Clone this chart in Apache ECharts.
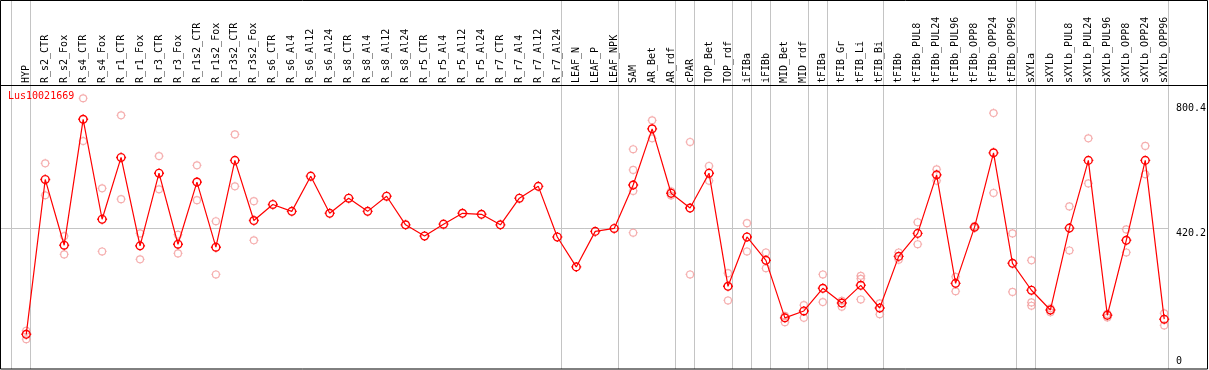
<!DOCTYPE html>
<html><head><meta charset="utf-8">
<script src="https://cdn.jsdelivr.net/npm/echarts@6/dist/echarts.min.js"></script>
<style>html,body{margin:0;padding:0;background:#fff}#c{width:1209px;height:370px}</style>
</head><body><div id="c"></div>
<script>
const chartTitle = 'Lus10021669';
const categories = ['HYP','R_s2_CTR','R_s2_Fox','R_s4_CTR','R_s4_Fox','R_r1_CTR','R_r1_Fox','R_r3_CTR','R_r3_Fox','R_r1s2_CTR','R_r1s2_Fox','R_r3s2_CTR','R_r3s2_Fox','R_s6_CTR','R_s6_Al4','R_s6_Al12','R_s6_Al24','R_s8_CTR','R_s8_Al4','R_s8_Al12','R_s8_Al24','R_r5_CTR','R_r5_Al4','R_r5_Al12','R_r5_Al24','R_r7_CTR','R_r7_Al4','R_r7_Al12','R_r7_Al24','LEAF_N','LEAF_P','LEAF_NPK','SAM','AR_Bet','AR_rdf','cPAR','TOP_Bet','TOP_rdf','iFIBa','iFIBb','MID_Bet','MID_rdf','tFIBa','tFIB_Gr','tFIB_Li','tFIB_Bi','tFIBb','tFIBb_PUL8','tFIBb_PUL24','tFIBb_PUL96','tFIBb_OPP8','tFIBb_OPP24','tFIBb_OPP96','sXYLa','sXYLb','sXYLb_PUL8','sXYLb_PUL24','sXYLb_PUL96','sXYLb_OPP8','sXYLb_OPP24','sXYLb_OPP96'];
const meanValues = [97,568,368,751,447,635,366,587,371,560,362,626,443,492,471,578,465,511,471,517,430,396,432,465,462,430,511,547,393,302,410,419,551,722,526,481,587,243,393,322,147,168,237,192,246,177,334,404,582,252,423,649,313,231,171,420,626,155,383,626,143];
const rep1 = [108,617,396,815,541,763,404,639,400,611,441,705,502,null,null,null,null,null,null,null,null,null,null,null,null,null,null,null,null,null,null,null,660,748,532,682,609,283,435,346,153,186,279,199,275,191,346,438,599,272,426,770,404,322,176,486,693,159,416,670,161];
const rep2 = [82,520,340,685,349,508,325,538,343,505,279,547,383,null,null,null,null,null,null,null,null,null,null,null,null,null,null,null,null,null,null,null,597,693,519,279,564,200,349,298,134,147,195,181,266,158,324,371,564,228,420,527,226,194,164,352,556,148,346,584,124];
const rep3 = [null,null,null,null,null,null,null,null,null,null,null,null,null,null,null,null,null,null,null,null,null,null,null,null,null,null,null,null,null,null,null,null,533,null,null,null,null,null,null,null,null,null,null,null,203,null,null,null,null,null,null,null,null,184,null,null,null,null,null,null,null];
const rep4 = [null,null,null,null,null,null,null,null,null,null,null,null,null,null,null,null,null,null,null,null,null,null,null,null,null,null,null,null,null,null,null,null,406,null,null,null,null,null,null,null,null,null,null,null,null,null,null,null,null,null,null,null,null,null,null,null,null,null,null,null,null];
const yTickValues = [0, 420.2, 800.4];
const gridLineValue = 420.2;
const groupEnds = [-1, 0, 28, 31, 34, 35, 37, 38, 39, 41, 42, 45, 52, 53, 60];

const FONT = 'DejaVu Sans Mono';
const markerPath = 'path://M0 -5.2L0 -4M0 4L0 5.2M-5.2 0L-4 0M4 0L5.2 0M4 0A4 4 0 1 1 -4 0A4 4 0 1 1 4 0Z';
function toPoints(arr){ const out=[]; arr.forEach((v,i)=>{ if(v!==null) out.push([i,v]); }); return out; }
function repSeries(arr, withMarks){
  const s = {
    type:'scatter', data: toPoints(arr), symbol: markerPath, symbolSize: 9, z: 2,
    itemStyle:{color:'rgba(0,0,0,0)', borderColor:'#f29a9a', borderWidth:1.2},
    silent:true, animation:false
  };
  if (withMarks) {
    s.markLine = {
      silent:true, symbol:'none', z:1, animation:false,
      label:{show:false},
      lineStyle:{color:'#c4c4c4', width:1, type:'solid'},
      data: groupEnds.map(g=>({xAxis: g + 0.21})).concat([{yAxis: gridLineValue}])
    };
  }
  return s;
}
const chart = echarts.init(document.getElementById('c'), null, {renderer:'canvas'});
chart.setOption({
  animation:false,
  backgroundColor:'#fff',
  title:{text:chartTitle, left:8, top:91, padding:0, textStyle:{color:'#ff0000', fontSize:10, fontWeight:'normal', fontFamily:FONT}},
  grid:{left:1, right:38, top:1, bottom:1, containLabel:false},
  xAxis:{
    type:'value', min:-1.3316, max:60.247, position:'bottom', offset:-283,
    axisLine:{show:false, onZero:false}, axisTick:{show:false}, splitLine:{show:false},
    axisLabel:{inside:true, rotate:90, margin:3, customValues: categories.map((_,i)=>i),
      formatter:(v)=>categories[Math.round(v)] || '', fontFamily:FONT, fontSize:10, color:'#000'}
  },
  yAxis:{
    type:'value', position:'right', min:-8.52, max:1110.8,
    axisLine:{show:false, onZero:false}, axisTick:{show:false}, splitLine:{show:false},
    axisLabel:{customValues: yTickValues, formatter:(v)=> v===0 ? '0' : v.toFixed(1), margin:7,
      verticalAlign:'top', verticalAlignMinLabel:'bottom', fontFamily:FONT, fontSize:10, color:'#000'}
  },
  series:[
    repSeries(rep1, true), repSeries(rep2), repSeries(rep3), repSeries(rep4),
    {type:'line', data: meanValues.map((v,i)=>[i,v]), z:5, symbol: markerPath, symbolSize:10, showAllSymbol:true,
     lineStyle:{color:'#ff0000', width:1.2}, itemStyle:{color:'rgba(0,0,0,0)', borderColor:'#ff0000', borderWidth:1.4},
     silent:true, animation:false}
  ],
  graphic:[
    {type:'rect', z:100, silent:true, shape:{x:0.5,y:0.5,width:1207,height:368.5}, style:{fill:'none', stroke:'#000', lineWidth:1}},
    {type:'line', z:100, silent:true, shape:{x1:0,y1:85.5,x2:1208,y2:85.5}, style:{stroke:'#000', lineWidth:1}}
  ]
});
</script></body></html>
